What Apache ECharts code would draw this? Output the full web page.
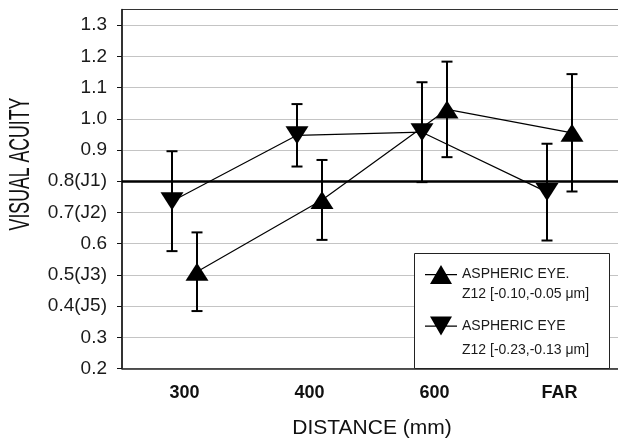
<!DOCTYPE html>
<html>
<head>
<meta charset="utf-8">
<script src="https://cdn.jsdelivr.net/npm/echarts@6/dist/echarts.min.js"></script>
<style>html,body{margin:0;padding:0;background:#fff}#c{width:618px;height:443px}</style>
</head>
<body>
<div id="c"></div>
<script>
// ---- data ----
var categories = ['300', '400', '600', 'FAR'];
var seriesNames = ['ASPHERIC EYE.\nZ12 [-0.10,-0.05 \u03bcm]', 'ASPHERIC EYE\nZ12 [-0.23,-0.13 \u03bcm]'];
var upMeans = [0.51, 0.74, 1.03, 0.955];
var upErrors = [0.126, 0.128, 0.153, 0.188];
var downMeans = [0.736, 0.947, 0.957, 0.765];
var downErrors = [0.16, 0.10, 0.16, 0.155];
var yTickValues = [0.2, 0.3, 0.4, 0.5, 0.6, 0.7, 0.8, 0.9, 1.0, 1.1, 1.2, 1.3];
var yTickLabels = ['0.2', '0.3', '0.4(J5)', '0.5(J3)', '0.6', '0.7(J2)', '0.8(J1)', '0.9', '1.0', '1.1', '1.2', '1.3'];
var referenceLevel = [0.8];

var FONT = 'Liberation Sans, Arial, sans-serif';
var offsetUp = 0.1, offsetDown = -0.1;

function pts(means, errs, off) {
  return means.map(function (v, i) { return [i + off, v, errs[i]]; });
}
var upData = pts(upMeans, upErrors, offsetUp);
var downData = pts(downMeans, downErrors, offsetDown);

function errorBar(params, api) {
  var x = api.value(0), y = api.value(1), e = api.value(2);
  var hi = api.coord([x, y + e]);
  var lo = api.coord([x, y - e]);
  var w = 5.5;
  var st = { stroke: '#000', lineWidth: 2 };
  return {
    type: 'group',
    children: [
      { type: 'line', shape: { x1: hi[0], y1: hi[1], x2: lo[0], y2: lo[1] }, style: st },
      { type: 'line', shape: { x1: hi[0] - w, y1: hi[1], x2: hi[0] + w, y2: hi[1] }, style: st },
      { type: 'line', shape: { x1: lo[0] - w, y1: lo[1], x2: lo[0] + w, y2: lo[1] }, style: st }
    ]
  };
}

var upIcon = 'path://M0,9L32,9L32,10.2L0,10.2Z M5,19L16,0L27,19Z';
var downIcon = 'path://M0,9L32,9L32,10.2L0,10.2Z M5,0L27,0L16,19Z';
function legendText(name) { return '\u00a0\n' + name; }

var chart = echarts.init(document.getElementById('c'));
chart.setOption({
  animation: false,
  backgroundColor: '#fff',
  grid: { left: 122, width: 500, top: 9.5, bottom: 74.5, outerBoundsMode: 'none', containLabel: false, show: true, borderColor: '#333', borderWidth: 1, backgroundColor: 'transparent' },
  xAxis: [{
    type: 'category',
    data: categories,
    boundaryGap: true,
    axisLine: { show: true, lineStyle: { color: '#222', width: 1.5 } },
    axisTick: { show: false },
    axisLabel: { fontFamily: FONT, fontSize: 18, fontWeight: 'bold', color: '#111', margin: 16 },
    splitLine: { show: false },
    name: 'DISTANCE (mm)',
    nameLocation: 'middle',
    nameGap: 49,
    nameTextStyle: { fontFamily: FONT, fontSize: 21, color: '#111' }
  }, {
    type: 'value',
    show: false,
    min: -0.5,
    max: 3.5,
    splitLine: { show: false }
  }],
  yAxis: {
    type: 'value',
    min: 0.2,
    max: 1.35,
    interval: 0.1,
    axisLine: { show: true, onZero: false, lineStyle: { color: '#111', width: 1.5 } },
    axisTick: { show: true, inside: false, length: 5, customValues: yTickValues, lineStyle: { color: '#111', width: 1 } },
    axisLabel: {
      customValues: yTickValues,
      fontFamily: FONT, fontSize: 19, color: '#1a1a1a', margin: 15,
      formatter: function (v) {
        for (var i = 0; i < yTickValues.length; i++) {
          if (Math.abs(yTickValues[i] - v) < 1e-6) return yTickLabels[i];
        }
        return '';
      }
    },
    splitLine: { show: true, lineStyle: { color: '#c4c4c4', width: 1.2 } }
  },
  graphic: [{
    type: 'rect',
    z: 5,
    shape: { x: 414.5, y: 253.5, width: 195, height: 115 },
    style: { fill: '#fff', stroke: '#222', lineWidth: 1 }
  }, {
    type: 'text',
    z: 5,
    x: 21, y: 164,
    rotation: Math.PI / 2,
    scaleX: 0.59,
    style: { text: 'VISUAL ACUITY', fontFamily: FONT, fontSize: 30, fill: '#111', align: 'center', verticalAlign: 'middle' }
  }],
  legend: [{
    z: 10,
    selectedMode: false,
    left: 425,
    top: 245.25,
    padding: 0,
    itemWidth: 32,
    itemHeight: 19,
    formatter: legendText,
    data: [{ name: seriesNames[0], icon: upIcon }],
    textStyle: { fontFamily: FONT, fontSize: 14, color: '#1a1a1a', lineHeight: 19.5 }
  }, {
    z: 10,
    selectedMode: false,
    left: 425,
    top: 290,
    padding: 0,
    itemWidth: 32,
    itemHeight: 19,
    formatter: legendText,
    data: [{ name: seriesNames[1], icon: downIcon }],
    textStyle: { fontFamily: FONT, fontSize: 14, color: '#1a1a1a', lineHeight: 24 }
  }],
  series: [{
    name: seriesNames[0],
    type: 'line',
    xAxisIndex: 1,
    data: upData,
    color: '#000',
    symbol: 'triangle',
    symbolSize: [23, 18],
    lineStyle: { color: '#000', width: 1.2 },
    itemStyle: { color: '#000' },
    z: 3,
    markLine: {
      silent: true,
      symbol: ['none', 'none'],
      label: { show: false },
      lineStyle: { color: '#000', width: 2.5, type: 'solid' },
      data: referenceLevel.map(function (v) { return { yAxis: v }; })
    }
  }, {
    name: seriesNames[1],
    type: 'line',
    xAxisIndex: 1,
    data: downData,
    color: '#000',
    symbol: 'triangle',
    symbolRotate: 180,
    symbolSize: [23, 18],
    lineStyle: { color: '#000', width: 1.2 },
    itemStyle: { color: '#000' },
    z: 3
  }, {
    type: 'custom',
    xAxisIndex: 1,
    renderItem: errorBar,
    data: upData,
    encode: { x: 0, y: 1 },
    z: 4
  }, {
    type: 'custom',
    xAxisIndex: 1,
    renderItem: errorBar,
    data: downData,
    encode: { x: 0, y: 1 },
    z: 4
  }]
});
</script>
</body>
</html>
